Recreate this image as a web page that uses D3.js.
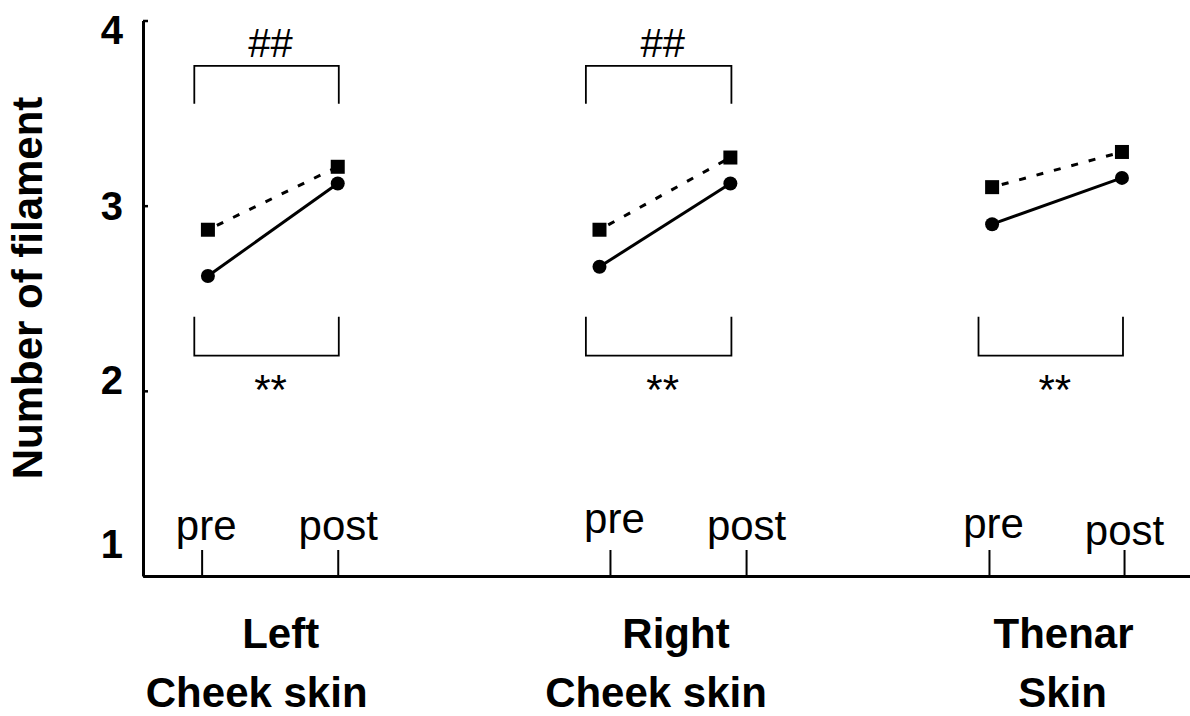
<!DOCTYPE html>
<html>
<head>
<meta charset="utf-8">
<script src="https://cdn.jsdelivr.net/npm/d3@7"></script>
<style>
  body { margin: 0; background: #fff; }
  svg { display: block; font-family: "Liberation Sans", Arial, sans-serif; }
</style>
</head>
<body>
<div id="chart"></div>
<script>
// data
const groupLines = [["Left", "Cheek skin"], ["Right", "Cheek skin"], ["Thenar", "Skin"]];
const phases = ["pre", "post"];
const squareVals = [[2.87, 3.21], [2.87, 3.26], [3.10, 3.29]];   // dashed series
const circleVals = [[2.62, 3.12], [2.67, 3.12], [2.90, 3.15]];   // solid series
const yTicks = [1, 2, 3, 4];
const tickX = [0.56, 1.86, 4.46, 5.76, 8.08, 9.37];
const pointX = [[0.62, 1.86], [4.36, 5.61], [8.11, 9.35]];
const topMarks = [{ g: 0, text: "##" }, { g: 1, text: "##" }];
const bottomMarks = [{ g: 0, text: "**" }, { g: 1, text: "**" }, { g: 2, text: "**" }];

// layout tweaks
const W = 1190, H = 716;
const yLabelShift = { 4: 10, 3: 1, 2: -10, 1: -31 };
const phaseLabelDy = [0, 0, -7, 0, -2, 5];
const catShift = [[11, -13], [-2, -22], [7, 6]];

const svg = d3.select("#chart").append("svg").attr("width", W).attr("height", H);

const x = d3.scaleLinear().domain([0, 10]).range([143, 1190]);
const y = d3.scaleLinear().domain([1, 4]).range([576, 20.5]);

// x axis, ticks pointing up with pre/post above
const xg = svg.append("g").attr("transform", "translate(0,576)")
    .call(d3.axisTop(x).tickValues(tickX)
        .tickFormat((d, i) => phases[i % 2])
        .tickSizeInner(26).tickSizeOuter(0).tickPadding(10));
xg.select(".domain").attr("stroke-width", 3);
xg.selectAll(".tick line").attr("stroke-width", 2);
xg.selectAll(".tick text")
    .attr("font-family", "Liberation Sans, Arial, sans-serif")
    .attr("font-size", 42).attr("fill", "#000")
    .attr("dx", (d, i) => i % 2 == 0 ? 4 : 0)
    .attr("y", (d, i) => -36 + phaseLabelDy[i]);

// y axis
const yg = svg.append("g").attr("transform", "translate(143,0)")
    .call(d3.axisLeft(y).tickValues(yTicks).tickFormat(d3.format("d"))
        .tickSizeInner(-5).tickSizeOuter(0).tickPadding(20));
yg.select(".domain").attr("stroke-width", 3);
yg.selectAll(".tick line").attr("stroke-width", 2.5);
yg.selectAll(".tick text")
    .attr("font-family", "Liberation Sans, Arial, sans-serif")
    .attr("font-size", 40).attr("font-weight", "bold").attr("fill", "#000")
    .attr("y", d => yLabelShift[d]);

svg.append("text")
    .attr("transform", "translate(42,288) rotate(-90)")
    .attr("text-anchor", "middle")
    .attr("font-size", 42).attr("font-weight", "bold")
    .text("Number of filament");

// lines
const dashed = groupLines.map((g, i) => pointX[i].map((px, j) => [px, squareVals[i][j]]));
const solid = groupLines.map((g, i) => pointX[i].map((px, j) => [px, circleVals[i][j]]));
const line = d3.line().x(d => x(d[0])).y(d => y(d[1]));

svg.selectAll(".dline").data(dashed).enter().append("path")
    .attr("d", line).attr("fill", "none").attr("stroke", "#000")
    .attr("stroke-width", 3).attr("stroke-dasharray", "7,11").attr("stroke-dashoffset", -10);
svg.selectAll(".sline").data(solid).enter().append("path")
    .attr("d", line).attr("fill", "none").attr("stroke", "#000").attr("stroke-width", 3);

svg.selectAll(".sq").data(dashed.flat()).enter().append("rect")
    .attr("x", d => x(d[0]) - 7).attr("y", d => y(d[1]) - 7)
    .attr("width", 14).attr("height", 14).attr("fill", "#000");
svg.selectAll(".ci").data(solid.flat()).enter().append("circle")
    .attr("cx", d => x(d[0])).attr("cy", d => y(d[1])).attr("r", 7).attr("fill", "#000");

// significance brackets
topMarks.forEach(m => {
    const x1 = x(pointX[m.g][0] - 0.13), x2 = x(pointX[m.g][1] + 0.01);
    const yt = y(3.755), yb = y(3.55);
    svg.append("path")
        .attr("d", `M${x1},${yb}V${yt}H${x2}V${yb}`)
        .attr("fill", "none").attr("stroke", "#000").attr("stroke-width", 1.8);
    svg.append("text").attr("x", (x1 + x2) / 2 + 4).attr("y", yt - 9)
        .attr("text-anchor", "middle").attr("font-size", 40).text(m.text);
});
bottomMarks.forEach(m => {
    const x1 = x(pointX[m.g][0] - 0.13), x2 = x(pointX[m.g][1] + 0.01);
    const yt = y(2.4), yb = y(2.19);
    svg.append("path")
        .attr("d", `M${x1},${yt}V${yb}H${x2}V${yt}`)
        .attr("fill", "none").attr("stroke", "#000").attr("stroke-width", 1.8);
    svg.append("text").attr("x", (x1 + x2) / 2 + 4).attr("y", yb + 48)
        .attr("text-anchor", "middle").attr("font-size", 42).text(m.text);
});

// category labels
groupLines.forEach((lines, i) => {
    const mid = (x(tickX[i * 2]) + x(tickX[i * 2 + 1])) / 2;
    lines.forEach((t, j) => {
        svg.append("text")
            .attr("x", mid + catShift[i][j]).attr("y", j == 0 ? 648 : 707)
            .attr("text-anchor", "middle").attr("font-size", 42).attr("font-weight", "bold")
            .text(t);
    });
});
</script>
</body>
</html>
